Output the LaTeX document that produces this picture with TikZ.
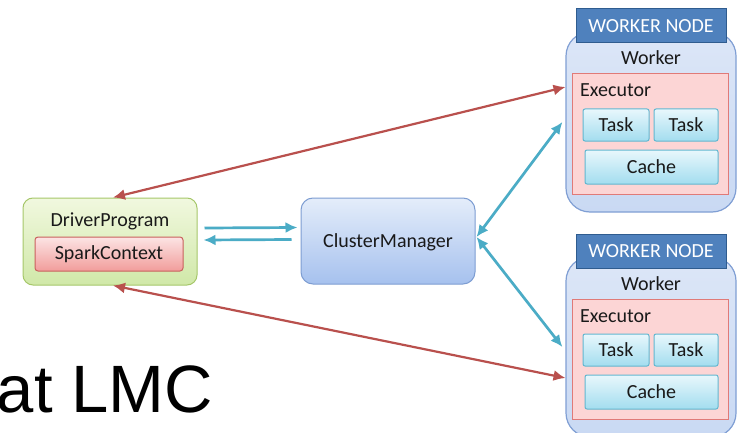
\documentclass[tikz,border=0pt]{standalone}
\usepackage{fontspec}
\setmainfont{Carlito}
\newfontfamily\slidefont{Liberation Sans}
\usepackage{tikz}
\usetikzlibrary{arrows.meta,positioning}
\definecolor{drvtop}{HTML}{F1F8DF}
\definecolor{drvbot}{HTML}{D0E8A8}
\definecolor{drvline}{HTML}{A6C76A}
\definecolor{sparktop}{HTML}{FCE4E4}
\definecolor{sparkbot}{HTML}{F19D9B}
\definecolor{sparkline}{HTML}{C9605D}
\definecolor{clutop}{HTML}{E4EDFA}
\definecolor{clubot}{HTML}{A6C1EE}
\definecolor{cluline}{HTML}{7D9DD2}
\definecolor{wtop}{HTML}{DCE6F7}
\definecolor{wbot}{HTML}{C9D9F3}
\definecolor{wline}{HTML}{809FD4}
\definecolor{headfill}{HTML}{4F81BD}
\definecolor{headline}{HTML}{2F5C8F}
\definecolor{exfill}{HTML}{FCD5D5}
\definecolor{exline}{HTML}{E07A78}
\definecolor{tasktop}{HTML}{E8F7FC}
\definecolor{taskbot}{HTML}{A3DDEF}
\definecolor{taskline}{HTML}{62B7D0}
\definecolor{redflow}{HTML}{B9504D}
\definecolor{tealflow}{HTML}{4BACC6}

\begin{document}
\begin{tikzpicture}[
  x=1pt, y=-1pt,
  every node/.style={font=\fontsize{20}{23}\selectfont, inner sep=0pt},
  drvbox/.style={draw=drvline, line width=1pt, top color=drvtop, bottom color=drvbot, rounded corners=10pt, minimum width=174pt, minimum height=87pt},
  sparkbox/.style={draw=sparkline, line width=1pt, top color=sparktop, bottom color=sparkbot, rounded corners=3pt, minimum width=148pt, minimum height=34pt},
  clubox/.style={draw=cluline, line width=1pt, top color=clutop, bottom color=clubot, rounded corners=12pt, minimum width=174pt, minimum height=86pt, text depth=0pt},
  wbox/.style={draw=wline, line width=1.2pt, top color=wtop, bottom color=wbot, rounded corners=24pt, minimum width=170pt, minimum height=180pt},
  headbox/.style={draw=headline, line width=1pt, fill=headfill, text=white, minimum width=150pt, minimum height=34pt},
  exbox/.style={draw=exline, line width=1pt, fill=exfill, minimum width=156pt, minimum height=120pt},
  taskbox/.style={draw=taskline, line width=1pt, top color=tasktop, bottom color=taskbot, rounded corners=2pt, minimum height=32pt},
  lbl/.style={text=black!90},
  redarrow/.style={{Latex[length=12pt,width=11pt]}-{Latex[length=12pt,width=11pt]}, line width=2.2pt, draw=redflow},
  tealarrow/.style={{Latex[length=12pt,width=11pt]}-{Latex[length=12pt,width=11pt]}, line width=2.7pt, draw=tealflow},
  tealone/.style={-{Latex[length=12pt,width=11pt]}, line width=2.7pt, draw=tealflow}
]
\clip (0,0) rectangle (738,433);
\fill[white] (0,0) rectangle (738,433);

% driver side
\node[drvbox] (driver) at (110,241.5) {};
\node[lbl, anchor=base] (drvlbl) at (110,226) {DriverProgram};
\node[sparkbox, lbl] (spark) at (109,254) {SparkContext};

\node[clubox, lbl] (cluster) at (388,241) {ClusterManager};

% two worker nodes
\foreach \i/\dy in {1/0,2/225} {
  \node[wbox] (worker\i) at (651,122+\dy) {};
  \node[headbox] (head\i) at (651,26+\dy) {WORKER NODE};
  \node[lbl, anchor=base] (wlbl\i) at (651,65+\dy) {Worker};
  \node[exbox] (exec\i) at (650,134+\dy) {};
  \node[lbl, anchor=base west] (exlbl\i) at (580,97+\dy) {Executor};
  \node[taskbox, lbl, minimum width=66pt] (taskA\i) at (616,125+\dy) {Task};
  \node[taskbox, lbl, minimum width=64pt] (taskB\i) at (686,125+\dy) {Task};
  \node[taskbox, lbl, minimum width=133pt, minimum height=34pt] (cache\i) at (651.5,167+\dy) {Cache};
}

% connectors
\draw[redarrow] ([xshift=3pt]driver.north) -- ([shift={(-6,-47)}]exec1.west);
\draw[redarrow] ([xshift=3pt]driver.south) -- ([shift={(-6,244)}]exec1.west);
\draw[tealarrow] ([xshift=1pt,yshift=4pt]cluster.east) -- ([xshift=-3pt]worker1.west);
\draw[tealarrow] ([xshift=1pt,yshift=4pt]cluster.east) -- ([shift={(-3,225)}]worker1.west);
\draw[tealone] ([shift={(7,-13.5)}]driver.east) -- ([shift={(-3,-13.5)}]cluster.west);
\draw[tealone] ([shift={(-9,-1.5)}]cluster.west) -- ([shift={(6,-1.5)}]driver.east);

\node[anchor=base east, font=\slidefont\fontsize{67}{72}\selectfont] (title) at (213,412) {at LMC};
\end{tikzpicture}
\end{document}
